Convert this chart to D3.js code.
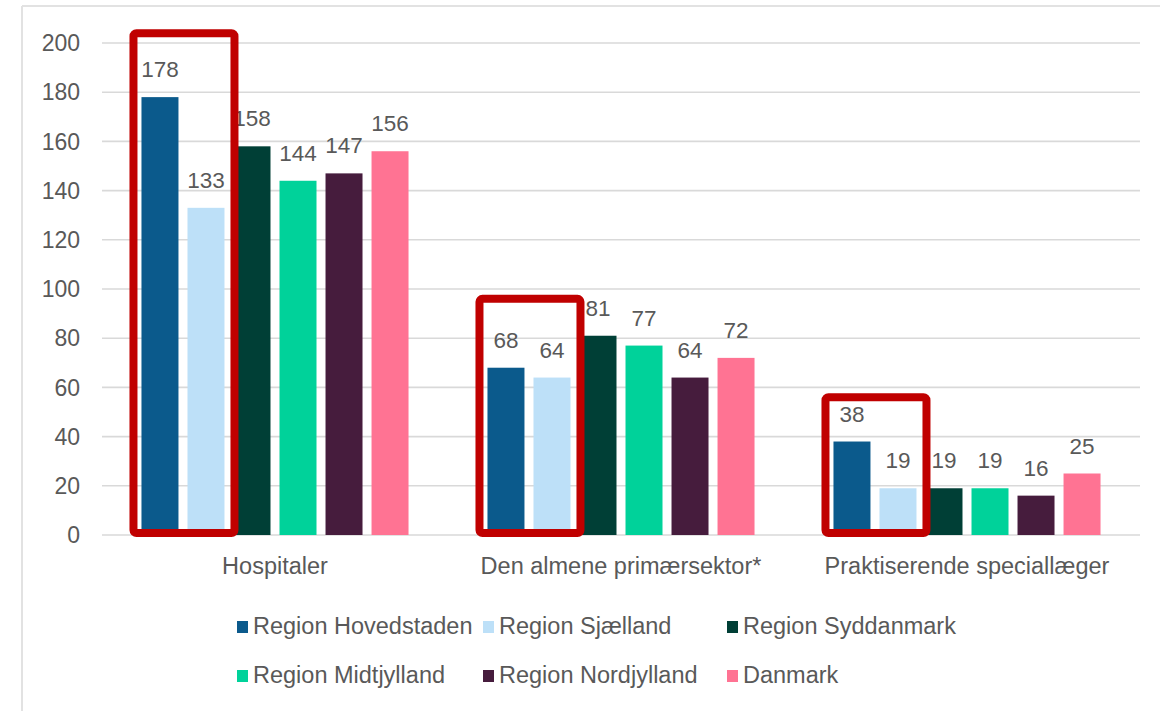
<!DOCTYPE html>
<meta charset="utf-8">
<style>
    body { margin: 0; background: #fff; }
    text { font-family: "Liberation Sans", Arial, sans-serif; fill: #595959; }
    .grid line { stroke: #d9d9d9; stroke-width: 1.6; }
</style>
<body>
<svg width="1160" height="711"></svg>
<script src="https://d3js.org/d3.v7.min.js"></script>
<script>
    // categories and series
    var categories = ["Hospitaler", "Den almene primærsektor*", "Praktiserende speciallæger"];
    var regions = ["Region Hovedstaden", "Region Sjælland", "Region Syddanmark",
                   "Region Midtjylland", "Region Nordjylland", "Danmark"];
    var hovedstaden = [178, 68, 38];
    var sjaelland   = [133, 64, 19];
    var syddanmark  = [158, 81, 19];
    var midtjylland = [144, 77, 19];
    var nordjylland = [147, 64, 16];
    var danmark     = [156, 72, 25];
    var yTicks = [0, 20, 40, 60, 80, 100, 120, 140, 160, 180, 200];
    // red highlight boxes around the first two bars, top edge in value units
    var highlightTop = [204, 96, 56];

    var colors = ["#0b5a8c", "#bde0f8", "#003f36", "#00d29a", "#461c3d", "#ff7393"];
    var seriesValues = [hovedstaden, sjaelland, syddanmark, midtjylland, nordjylland, danmark];

    var svg = d3.select("svg");

    // outer frame (screenshot edge)
    svg.append("line").attr("x1", 22).attr("x2", 1160).attr("y1", 6).attr("y2", 6)
        .attr("stroke", "#e2e2e2").attr("stroke-width", 2);
    svg.append("line").attr("x1", 22).attr("x2", 22).attr("y1", 6).attr("y2", 711)
        .attr("stroke", "#e2e2e2").attr("stroke-width", 2);

    var x0 = d3.scaleBand().domain(categories).range([102, 1140]);
    var x1 = d3.scaleBand().domain(regions).range([0, x0.bandwidth()])
        .paddingInner(0.196).paddingOuter(0.858);
    var y = d3.scaleLinear().domain([0, 200]).range([535, 43]);

    // gridlines
    svg.append("g").attr("class", "grid")
        .selectAll("line").data(yTicks).join("line")
        .attr("x1", 102).attr("x2", 1140)
        .attr("y1", function (d) { return y(d); })
        .attr("y2", function (d) { return y(d); });

    // y tick labels
    svg.append("g").selectAll("text").data(yTicks).join("text")
        .attr("x", 80).attr("y", function (d) { return y(d); })
        .attr("dy", "0.36em")
        .attr("text-anchor", "end")
        .style("font-size", "23px")
        .text(function (d) { return d; });

    var rows = [];
    categories.forEach(function (c, i) {
        regions.forEach(function (r, j) {
            rows.push({ cat: c, region: r, value: seriesValues[j][i], color: colors[j] });
        });
    });

    // bars
    svg.append("g").selectAll("rect").data(rows).join("rect")
        .attr("x", function (d) { return x0(d.cat) + x1(d.region); })
        .attr("y", function (d) { return y(d.value); })
        .attr("width", x1.bandwidth())
        .attr("height", function (d) { return y(0) - y(d.value); })
        .attr("fill", function (d) { return d.color; });

    // value labels
    svg.append("g").selectAll("text").data(rows).join("text")
        .attr("x", function (d) { return x0(d.cat) + x1(d.region) + x1.bandwidth() / 2; })
        .attr("y", function (d) { return y(d.value) - 20; })
        .attr("text-anchor", "middle")
        .style("font-size", "22.5px")
        .text(function (d) { return d.value; });

    // category labels
    svg.append("g").selectAll("text").data(categories).join("text")
        .attr("x", function (d) { return x0(d) + x0.bandwidth() / 2; })
        .attr("y", 574)
        .attr("text-anchor", "middle")
        .style("font-size", "23.5px")
        .text(function (d) { return d; });

    // red highlight boxes
    svg.append("g").selectAll("rect").data(categories).join("rect")
        .attr("x", function (d) { return x0(d) + x1(regions[0]) - 8; })
        .attr("y", function (d, i) { return y(highlightTop[i]); })
        .attr("width", x1(regions[1]) - x1(regions[0]) + x1.bandwidth() + 18)
        .attr("height", function (d, i) { return y(0) - 2 - y(highlightTop[i]); })
        .attr("rx", 3)
        .attr("fill", "none")
        .attr("stroke", "#c00000")
        .attr("stroke-width", 8);

    // legend: 3 columns, 2 rows
    var legendX = [237, 483, 727], legendY = [634, 683];
    var legend = svg.append("g").selectAll("g").data(regions).join("g")
        .attr("transform", function (d, i) {
            return "translate(" + legendX[i % 3] + "," + legendY[Math.floor(i / 3)] + ")";
        });
    legend.append("rect")
        .attr("x", 0).attr("y", -13).attr("width", 11).attr("height", 12)
        .attr("fill", function (d, i) { return colors[i]; });
    legend.append("text")
        .attr("x", 16).attr("y", 0)
        .style("font-size", "23.5px")
        .text(function (d) { return d; });
</script>
</body>
